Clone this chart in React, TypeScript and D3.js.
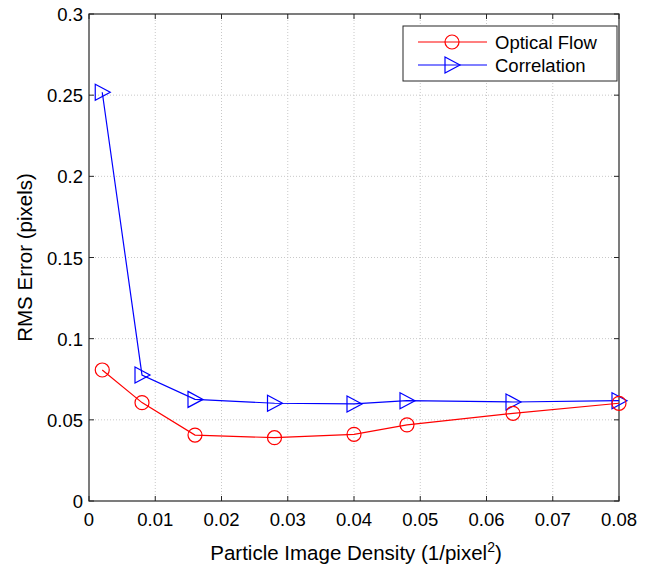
import React, { useEffect, useRef } from "react";
import * as d3 from "d3";

const density = [0.002, 0.008, 0.016, 0.028, 0.04, 0.048, 0.064, 0.08];
const opticalFlow = [0.0807, 0.0606, 0.0406, 0.039, 0.0411, 0.0469, 0.054, 0.0602];
const correlation = [0.2518, 0.0776, 0.0626, 0.0602, 0.0598, 0.0618, 0.061, 0.0618];
const xTicks = [0, 0.01, 0.02, 0.03, 0.04, 0.05, 0.06, 0.07, 0.08];
const yTicks = [0, 0.05, 0.1, 0.15, 0.2, 0.25, 0.3];

const W = 649, H = 566;
const left = 89, right = 619, top = 14, bottom = 501;
const font = "'Liberation Sans', Arial, sans-serif";

export default function App() {
  const ref = useRef<SVGSVGElement>(null);

  useEffect(() => {
    const svg = d3.select(ref.current);
    svg.selectAll("*").remove();

    const x = d3.scaleLinear().domain([0, 0.08]).range([left, right]);
    const y = d3.scaleLinear().domain([0, 0.3]).range([bottom, top]);

    svg.append("rect").attr("width", W).attr("height", H).attr("fill", "#fff");

    // grid
    const grid = svg.append("g").attr("stroke", "#c8c8c8").attr("stroke-width", 1).attr("stroke-dasharray", "1,2");
    xTicks.slice(1, -1).forEach((t) => {
      grid.append("line").attr("x1", x(t)).attr("x2", x(t)).attr("y1", top).attr("y2", bottom);
    });
    yTicks.slice(1, -1).forEach((t) => {
      grid.append("line").attr("x1", left).attr("x2", right).attr("y1", y(t)).attr("y2", y(t));
    });

    // ticks (inside, both sides)
    const ticks = svg.append("g").attr("stroke", "#262626").attr("stroke-width", 1);
    xTicks.forEach((t) => {
      ticks.append("line").attr("x1", x(t)).attr("x2", x(t)).attr("y1", bottom).attr("y2", bottom - 5);
      ticks.append("line").attr("x1", x(t)).attr("x2", x(t)).attr("y1", top).attr("y2", top + 5);
    });
    yTicks.forEach((t) => {
      ticks.append("line").attr("x1", left).attr("x2", left + 5).attr("y1", y(t)).attr("y2", y(t));
      ticks.append("line").attr("x1", right).attr("x2", right - 5).attr("y1", y(t)).attr("y2", y(t));
    });

    // box
    svg.append("rect")
      .attr("x", left).attr("y", top)
      .attr("width", right - left).attr("height", bottom - top)
      .attr("fill", "none").attr("stroke", "#262626").attr("stroke-width", 1.2);

    // tick labels
    svg.append("g").selectAll("text").data(xTicks).join("text")
      .attr("x", (d) => x(d)).attr("y", 526)
      .attr("text-anchor", "middle")
      .attr("font-family", font).attr("font-size", 18.5).attr("fill", "#000")
      .text((d) => String(d));
    svg.append("g").selectAll("text").data(yTicks).join("text")
      .attr("x", 83).attr("y", (d) => y(d) + 7)
      .attr("text-anchor", "end")
      .attr("font-family", font).attr("font-size", 18.5).attr("fill", "#000")
      .text((d) => String(d));

    // axis titles
    const xt = svg.append("text")
      .attr("x", 356).attr("y", 560)
      .attr("text-anchor", "middle")
      .attr("font-family", font).attr("font-size", 20.5).attr("fill", "#000");
    xt.append("tspan").text("Particle Image Density (1/pixel");
    xt.append("tspan").attr("dy", -8).attr("font-size", 14).text("2");
    xt.append("tspan").attr("dy", 8).text(")");

    svg.append("text")
      .attr("transform", `translate(32,${(top + bottom) / 2}) rotate(-90)`)
      .attr("text-anchor", "middle")
      .attr("font-family", font).attr("font-size", 20.5).attr("fill", "#000")
      .text("RMS Error (pixels)");

    const line = d3.line<number>().x((d, i) => x(density[i])).y((d) => y(d));
    const tri = (cx: number, cy: number) =>
      `M${cx - 7},${cy - 8}L${cx + 8},${cy}L${cx - 7},${cy + 8}Z`;

    // correlation
    svg.append("path").attr("d", line(correlation)).attr("fill", "none")
      .attr("stroke", "#0000ff").attr("stroke-width", 1.2);
    svg.append("g").selectAll("path").data(correlation).join("path")
      .attr("d", (d, i) => tri(x(density[i]), y(d)))
      .attr("fill", "none").attr("stroke", "#0000ff").attr("stroke-width", 1.2);

    // optical flow
    svg.append("path").attr("d", line(opticalFlow)).attr("fill", "none")
      .attr("stroke", "#ff0000").attr("stroke-width", 1.2);
    svg.append("g").selectAll("circle").data(opticalFlow).join("circle")
      .attr("cx", (d, i) => x(density[i])).attr("cy", (d) => y(d)).attr("r", 7)
      .attr("fill", "none").attr("stroke", "#ff0000").attr("stroke-width", 1.2);

    // legend
    const lg = svg.append("g");
    lg.append("rect").attr("x", 403).attr("y", 26).attr("width", 214).attr("height", 55)
      .attr("fill", "#fff").attr("stroke", "#262626").attr("stroke-width", 1);
    lg.append("line").attr("x1", 418).attr("x2", 487).attr("y1", 42).attr("y2", 42)
      .attr("stroke", "#ff0000").attr("stroke-width", 1.2);
    lg.append("circle").attr("cx", 452).attr("cy", 42).attr("r", 7)
      .attr("fill", "none").attr("stroke", "#ff0000").attr("stroke-width", 1.2);
    lg.append("line").attr("x1", 418).attr("x2", 487).attr("y1", 65).attr("y2", 65)
      .attr("stroke", "#0000ff").attr("stroke-width", 1.2);
    lg.append("path").attr("d", tri(452, 65))
      .attr("fill", "none").attr("stroke", "#0000ff").attr("stroke-width", 1.2);
    lg.append("text").attr("x", 495).attr("y", 49)
      .attr("font-family", font).attr("font-size", 18.5).attr("fill", "#000").text("Optical Flow");
    lg.append("text").attr("x", 495).attr("y", 72)
      .attr("font-family", font).attr("font-size", 18.5).attr("fill", "#000").text("Correlation");
  }, []);

  return <svg ref={ref} width={W} height={H} style={{ position: "absolute", left: 0, top: 0 }} />;
}
